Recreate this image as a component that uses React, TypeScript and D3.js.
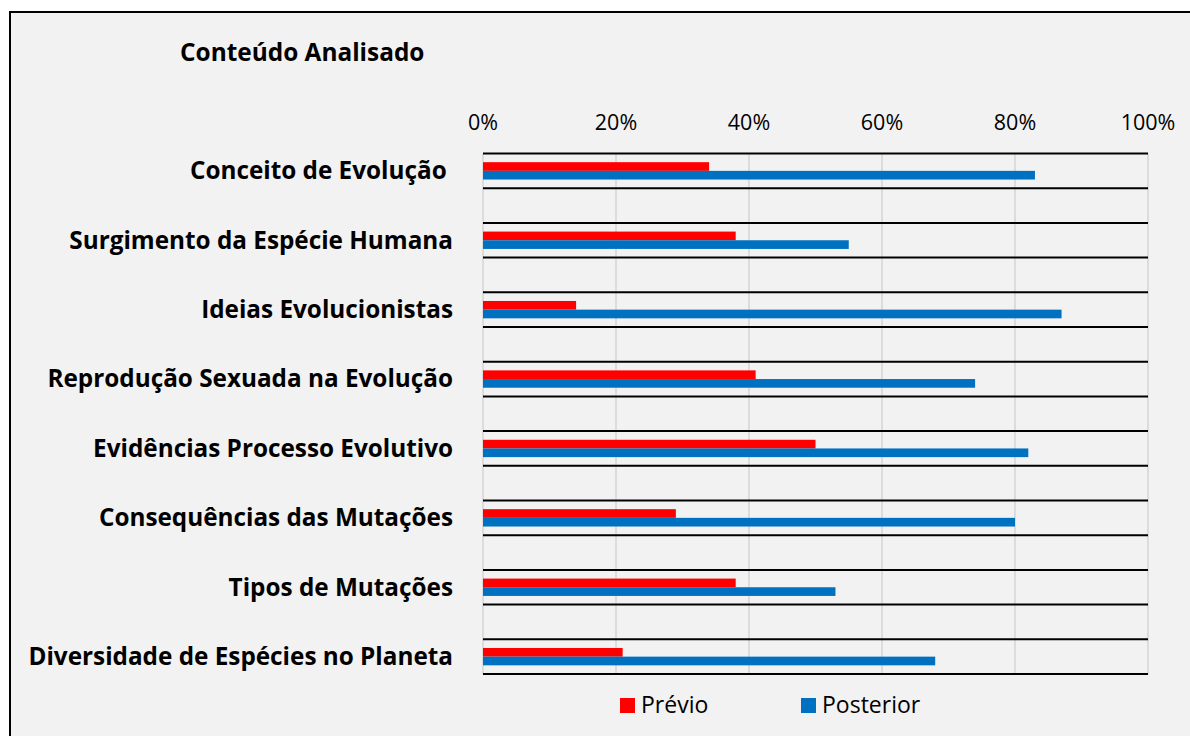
import React from "react";
import * as d3 from "d3";

// Categories (top to bottom) and the share of correct answers per phase, in %
const categories: string[] = [
  "Conceito de Evolução ",
  "Surgimento da Espécie Humana",
  "Ideias Evolucionistas",
  "Reprodução Sexuada na Evolução",
  "Evidências Processo Evolutivo",
  "Consequências das Mutações",
  "Tipos de Mutações",
  "Diversidade de Espécies no Planeta",
];
const previo: number[] = [34, 38, 14, 41, 50, 29, 38, 21];
const posterior: number[] = [83, 55, 87, 74, 82, 80, 53, 68];
const xTicks: number[] = [0, 20, 40, 60, 80, 100];
const seriesNames: string[] = ["Prévio", "Posterior"];
const seriesColors: string[] = ["#ff0000", "#0070c0"];
const title = "Conteúdo Analisado";

const W = 1190;
const H = 736;
const FONT = "'Open Sans', Lato, sans-serif";

export default function App() {
  const x = d3.scaleLinear().domain([0, 100]).range([483, 1148]);

  // every category sits in its own slot, with an empty slot between two categories
  const slotCount = categories.length * 2 - 1;
  const slot = d3
    .scaleBand<number>()
    .domain(d3.range(slotCount))
    .range([153.5, 674])
    .padding(0);
  const bw = slot.bandwidth();
  const boundaries = d3.range(slotCount + 1).map((i) => 153.5 + i * bw);

  const inner = d3
    .scaleBand<string>()
    .domain(seriesNames)
    .range([bw / 4, (bw * 3) / 4])
    .padding(0);

  const values = [previo, posterior];
  const top = boundaries[0];
  const bottom = boundaries[boundaries.length - 1];

  return (
    <svg
      width={W}
      height={H}
      style={{ position: "absolute", left: 0, top: 0, background: "#ffffff" }}
      fontFamily={FONT}
    >
      <rect x={10} y={12} width={W + 20} height={H + 20} fill="#f2f2f2" stroke="#000" strokeWidth={2} />

      <text x={180} y={61} fontSize={24.4} fontWeight={700} fill="#000">
        {title}
      </text>

      {/* vertical gridlines */}
      {xTicks.map((t) => (
        <line key={"g" + t} x1={x(t)} x2={x(t)} y1={top} y2={bottom} stroke="#d4d4d4" strokeWidth={1.5} />
      ))}

      {/* tick labels on top */}
      {xTicks.map((t) => (
        <text key={"t" + t} x={x(t)} y={130} fontSize={21.5} textAnchor="middle" fill="#000">
          {t + "%"}
        </text>
      ))}

      {/* bars */}
      {categories.map((c, i) => {
        const y0 = slot(i * 2) as number;
        return seriesNames.map((s, k) => (
          <rect
            key={c + s}
            x={x(0)}
            y={y0 + (inner(s) as number)}
            width={x(values[k][i]) - x(0)}
            height={inner.bandwidth()}
            fill={seriesColors[k]}
          />
        ));
      })}

      {/* horizontal category-boundary lines */}
      {boundaries.map((b, i) => (
        <line key={"h" + i} x1={x(0)} x2={x(100)} y1={b} y2={b} stroke="#000" strokeWidth={2} />
      ))}

      {/* category labels */}
      {categories.map((c, i) => (
        <text
          key={"l" + c}
          x={453}
          y={(slot(i * 2) as number) + bw / 2 + 8.4}
          fontSize={24.3}
          fontWeight={700}
          textAnchor="end"
          fill="#000"
          style={{ whiteSpace: "pre" }}
        >
          {c}
        </text>
      ))}

      {/* legend */}
      {seriesNames.map((s, k) => {
        const lx = [620, 801][k];
        return (
          <g key={"lg" + s}>
            <rect x={lx} y={698} width={15} height={15} fill={seriesColors[k]} />
            <text x={lx + 21} y={713} fontSize={23} fill="#000">
              {s}
            </text>
          </g>
        );
      })}
    </svg>
  );
}
